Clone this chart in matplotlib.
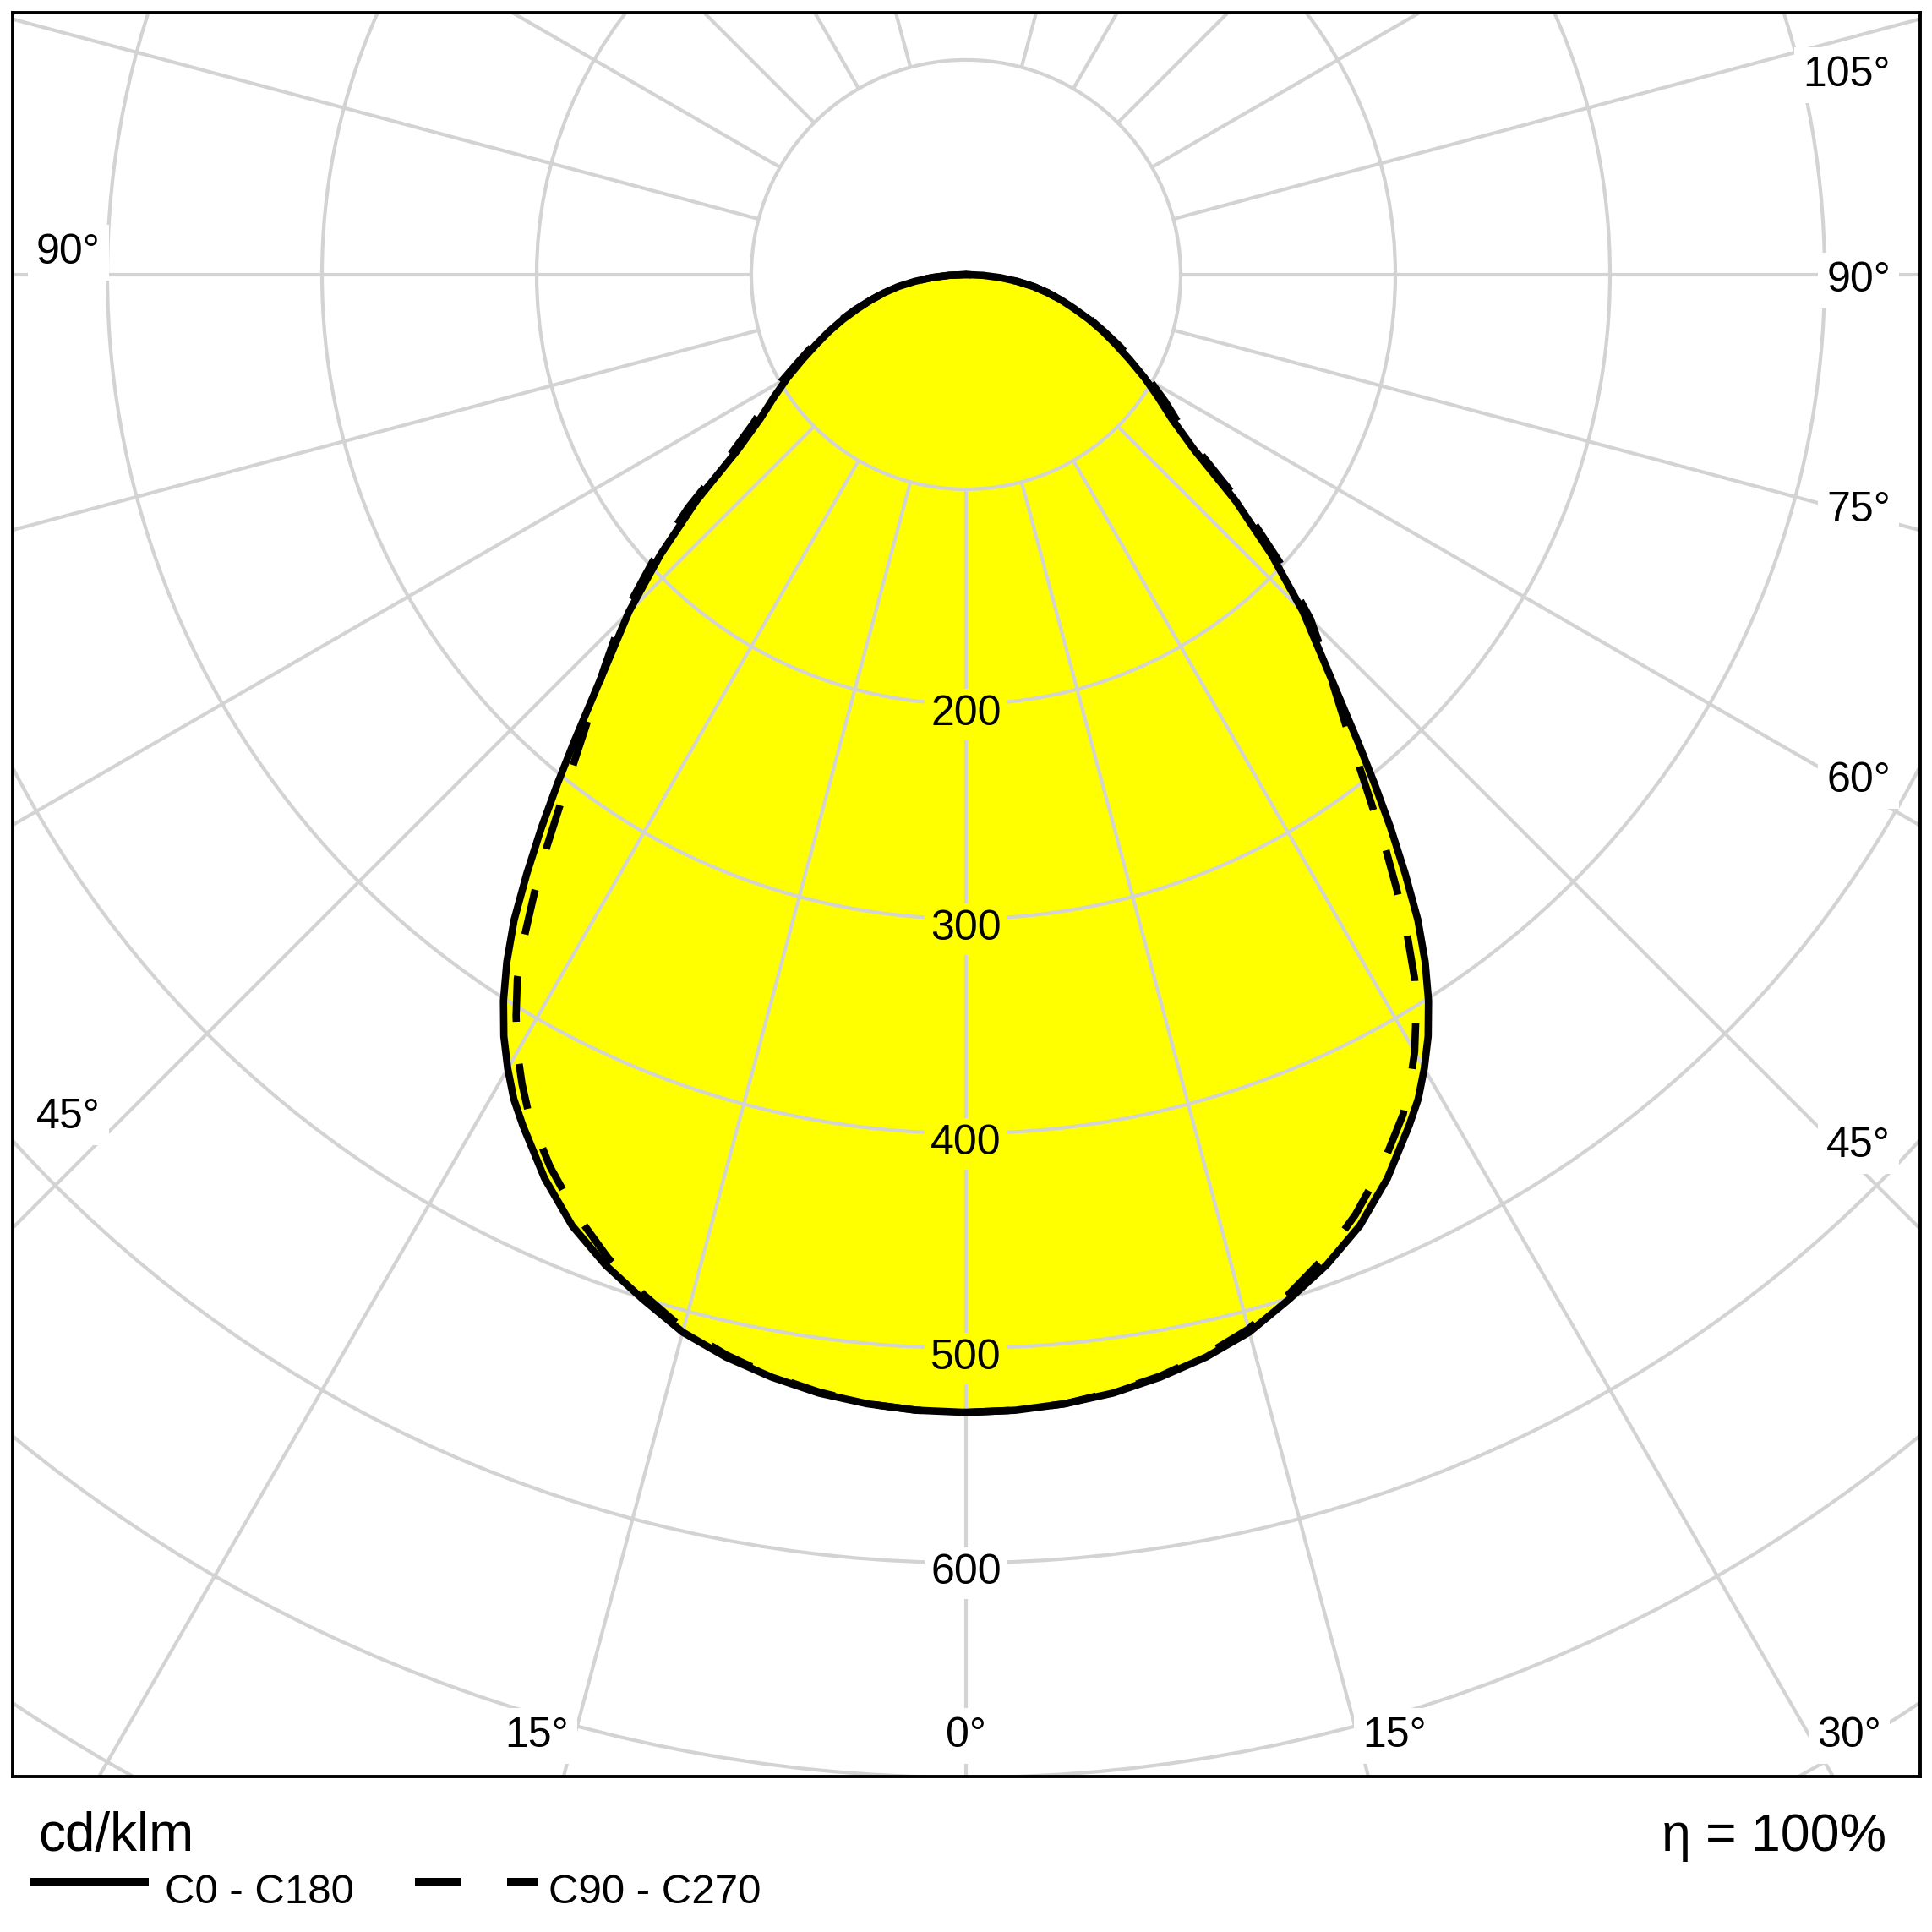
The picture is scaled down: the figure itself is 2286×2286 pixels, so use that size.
import numpy as np
import matplotlib
matplotlib.use("Agg")
import matplotlib.pyplot as plt
from matplotlib.patches import Circle, Polygon
from matplotlib.lines import Line2D

plt.rcParams['font.family'] = ['Liberation Sans', 'DejaVu Sans']

# ---------------- data (cd/klm) ----------------
gamma = [0, 2.5, 5, 7.5, 10, 12.5, 15, 17.5, 20, 22.5, 25, 27.5, 28.75, 30, 31.25,
         32.5, 33.75, 35, 36.25, 37.5, 38.75, 40, 42.5, 45, 47.5, 50, 52.5, 55, 57.5,
         60, 62.5, 65, 67.5, 70, 72.5, 75, 77.5, 80, 82.5, 85, 87.5, 90]
# C0 (right half) and C180 (left half) are symmetric
i_c0_c180 = [530, 529.5, 528, 525.5, 521.5, 516.5, 510, 500.5, 491, 479.5, 464.5, 447,
             438, 427, 415, 401, 385, 367, 346, 325, 304, 284, 249, 222, 193, 164, 134,
             117, 106, 96, 86, 77, 69, 61, 53, 46, 39, 32, 24, 16, 8, 0]
# C90 (right half) and C270 (left half) are symmetric
i_c90_c270 = [530, 529.5, 528, 525, 521, 515.5, 508.5, 498.5, 487.5, 474, 458.5, 441,
              430, 418, 404, 389, 370, 350, 330, 310, 292, 276, 250, 227, 198, 169, 139,
              121, 110, 99, 88, 79, 70, 62, 54, 46, 39, 32, 24, 16, 8, 0]

ring_values = [100, 200, 300, 400, 500, 600, 700, 800]
ring_label_values = [200, 300, 400, 500, 600]
spoke_angles = [-165, -150, -135, -120, -105, -90, -75, -60, -45, -30, -15, 0,
                15, 30, 45, 60, 75, 90, 105, 120, 135, 150, 165]

# angle labels: text, x, baseline y (data units), horizontal alignment
angle_label_text = ["105°", "90°", "75°", "60°", "45°", "30°", "15°", "0°", "15°", "90°", "45°"]
angle_label_x = [430.7, 430.7, 430.7, 430.7, 430.7, 411.4, 199.6, 0.0, -200.0, -433.1, -433.1]
angle_label_y = [87.8, -8.1, -114.8, -241.0, -411.0, -686.0, -686.0, -686.0, -686.0, 5.1, -397.8]
angle_label_ha = ["right", "right", "right", "right", "right", "center", "center", "center",
                  "center", "left", "left"]

unit_text = "cd/klm"
eta_text = "η = 100%"
series_names = ["C0 - C180", "C90 - C270"]

GRID = '#d3d3d3'
FILL = '#ffff00'

fig = plt.figure(figsize=(22.86, 22.86), dpi=100)
ax = fig.add_axes([15 / 2286, 1 - 2102 / 2286, 2257 / 2286, 2087 / 2286])
ax.set_xlim(-444.1, 444.5)
ax.set_ylim(-699.6, 122.0)
ax.set_xticks([])
ax.set_yticks([])
for s in ax.spines.values():
    s.set_linewidth(2.8)
    s.set_color('black')
    s.set_zorder(10)


def outline(vals):
    g = np.radians(np.asarray(gamma, dtype=float))
    v = np.asarray(vals, dtype=float)
    xl = -(v * np.sin(g))[::-1]
    yl = -(v * np.cos(g))[::-1]
    xr = v * np.sin(g)
    yr = -v * np.cos(g)
    return np.r_[xl, xr[1:]], np.r_[yl, yr[1:]]


x1, y1 = outline(i_c0_c180)
x2, y2 = outline(i_c90_c270)

for xs, ys in [(x1, y1), (x2, y2)]:
    ax.add_patch(Polygon(np.c_[xs, ys], closed=True, facecolor=FILL, edgecolor='none', zorder=1))

# grid rings
for r in ring_values:
    ax.add_patch(Circle((0, 0), r, fill=False, edgecolor=GRID, linewidth=3.0, zorder=2))
# spokes from the first ring outward
r_in, r_out = ring_values[0], 1500
for a in spoke_angles:
    t = np.radians(a)
    ax.plot([r_in * np.sin(t), r_out * np.sin(t)], [-r_in * np.cos(t), -r_out * np.cos(t)],
            color=GRID, linewidth=3.0, zorder=2, solid_capstyle='butt')

# curves
ax.plot(x1, y1, color='black', linewidth=6.2, zorder=4,
        solid_joinstyle='round', solid_capstyle='round')
ax.plot(x2, y2, color='black', linewidth=6.2, zorder=4,
        linestyle=(0, (6.3, 5.8)), dash_capstyle='butt', dash_joinstyle='round')

# ring labels
for r in ring_label_values:
    fc = FILL if r < i_c0_c180[0] else 'white'
    ax.text(0, -r - 10, str(r), ha='center', va='baseline', fontsize=36, zorder=6,
            bbox=dict(boxstyle='square,pad=0.15', facecolor=fc, edgecolor='none'))

# angle labels
for t, x, y, ha in zip(angle_label_text, angle_label_x, angle_label_y, angle_label_ha):
    ax.text(x, y, t, ha=ha, va='baseline', fontsize=36, zorder=6,
            bbox=dict(boxstyle='square,pad=0.2', facecolor='white', edgecolor='none'))

# footer texts
fig.text(45 / 2286, 1 - 2190 / 2286, unit_text, ha='left', va='baseline', fontsize=46)
fig.text(2232 / 2286, 1 - 2190 / 2286, eta_text, ha='right', va='baseline', fontsize=45)

# legend
ly = 1 - 2227 / 2286
fig.add_artist(Line2D([36 / 2286, 176 / 2286], [ly, ly], transform=fig.transFigure,
                      color='black', linewidth=7.2, solid_capstyle='butt'))
fig.add_artist(Line2D([491 / 2286, 637 / 2286], [ly, ly], transform=fig.transFigure,
                      color='black', linewidth=7.2, linestyle=(0, (5.4, 5.5)),
                      dash_capstyle='butt'))
fig.text(195 / 2286, 1 - 2252 / 2286, series_names[0], ha='left', va='baseline', fontsize=35.5)
fig.text(649 / 2286, 1 - 2252 / 2286, series_names[1], ha='left', va='baseline', fontsize=35.5)

fig.savefig('out.png', dpi=100, facecolor='white')
